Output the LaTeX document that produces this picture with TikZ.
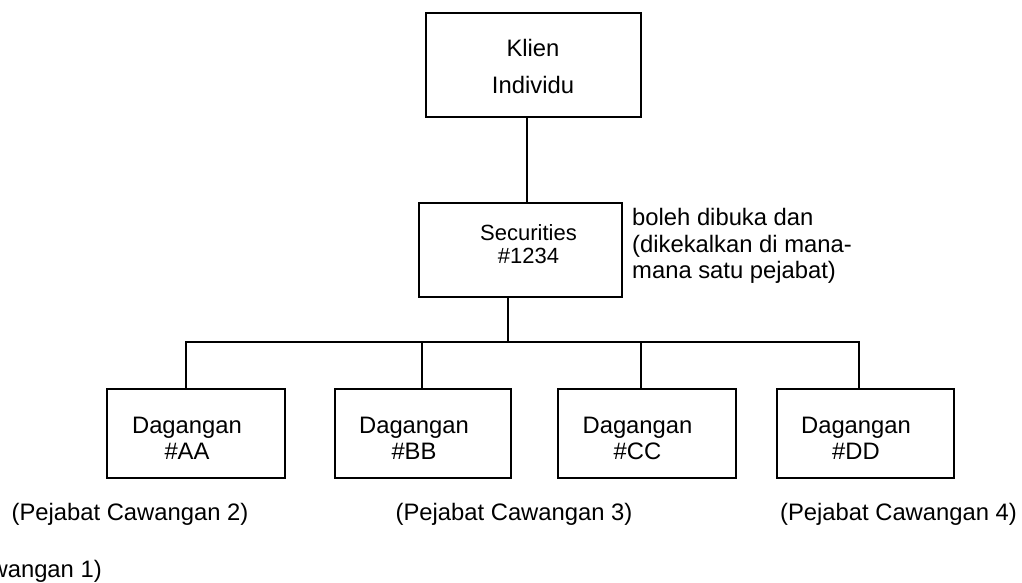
\documentclass[tikz,border=0pt]{standalone}
\usepackage{fontspec}
\setmainfont{Liberation Sans}
\begin{document}
\begin{tikzpicture}[x=1pt,y=-1pt,
  box/.style={draw,line width=2.7pt,minimum width=#1,inner sep=0pt},
  txt/.style={anchor=base,inner sep=0pt,font=\fontsize{23.8}{26}\selectfont},
  txtw/.style={anchor=base west,inner sep=0pt,font=\fontsize{23.8}{26}\selectfont},
  stxt/.style={anchor=base,inner sep=0pt,font=\fontsize{22}{24}\selectfont},
  conn/.style={line width=2.7pt}]
\path[use as bounding box] (0,0) rectangle (1022,582);
\clip (0,0) rectangle (1022,582);
% boxes
\node[box=215pt,minimum height=104pt] (klien) at (533.5,65) {};
\node[box=203pt,minimum height=94pt] (sec) at (520.5,250) {};
\node[box=178pt,minimum height=89pt] (aa) at (196,433.5) {};
\node[box=176pt,minimum height=89pt] (bb) at (423,433.5) {};
\node[box=178pt,minimum height=89pt] (cc) at (647,433.5) {};
\node[box=177pt,minimum height=89pt] (dd) at (865.5,433.5) {};
% box texts
\node[txt] (klien1) at (533,56) {Klien};
\node[txt] (klien2) at (533,93) {Individu};
\node[stxt] (sec1) at (528.5,240) {Securities};
\node[stxt] (sec2) at (528.5,263) {\#1234};
\node[txt] (aa1) at (187,433) {Dagangan};
\node[txt] (aa2) at (187,459) {\#AA};
\node[txt] (bb1) at (414,433) {Dagangan};
\node[txt] (bb2) at (414,459) {\#BB};
\node[txt] (cc1) at (637.5,433) {Dagangan};
\node[txt] (cc2) at (637.5,459) {\#CC};
\node[txt] (dd1) at (856,433) {Dagangan};
\node[txt] (dd2) at (856,459) {\#DD};
% side note
\node[txtw] (note1) at (632,225) {boleh dibuka dan};
\node[txtw] (note2) at (632,252) {(dikekalkan di mana-};
\node[txtw] (note3) at (632,278) {mana satu pejabat)};
% office labels
\node[anchor=base east,inner sep=0pt,font=\fontsize{23.8}{26}\selectfont] (p1) at (102,577) {(Pejabat Cawangan 1)};
\node[txt] (p2) at (130,520) {(Pejabat Cawangan 2)};
\node[txt] (p3) at (514,520) {(Pejabat Cawangan 3)};
\node[txt] (p4) at (898.5,520) {(Pejabat Cawangan 4)};
% connectors
\coordinate (top) at (527,0);
\coordinate (bus) at (508,342);
\coordinate (ta) at (186,342);
\coordinate (tb) at (422,342);
\coordinate (tc) at (641,342);
\coordinate (td) at (859,342);
\draw[conn] (klien.south -| top) -- (sec.north -| top);
\draw[conn] (sec.south -| bus) -- (bus);
\draw[conn] (aa.north -| ta) -- (ta) -- (td) -- (dd.north -| td);
\draw[conn] (tb) -- (bb.north -| tb);
\draw[conn] (tc) -- (cc.north -| tc);
\end{tikzpicture}
\end{document}
